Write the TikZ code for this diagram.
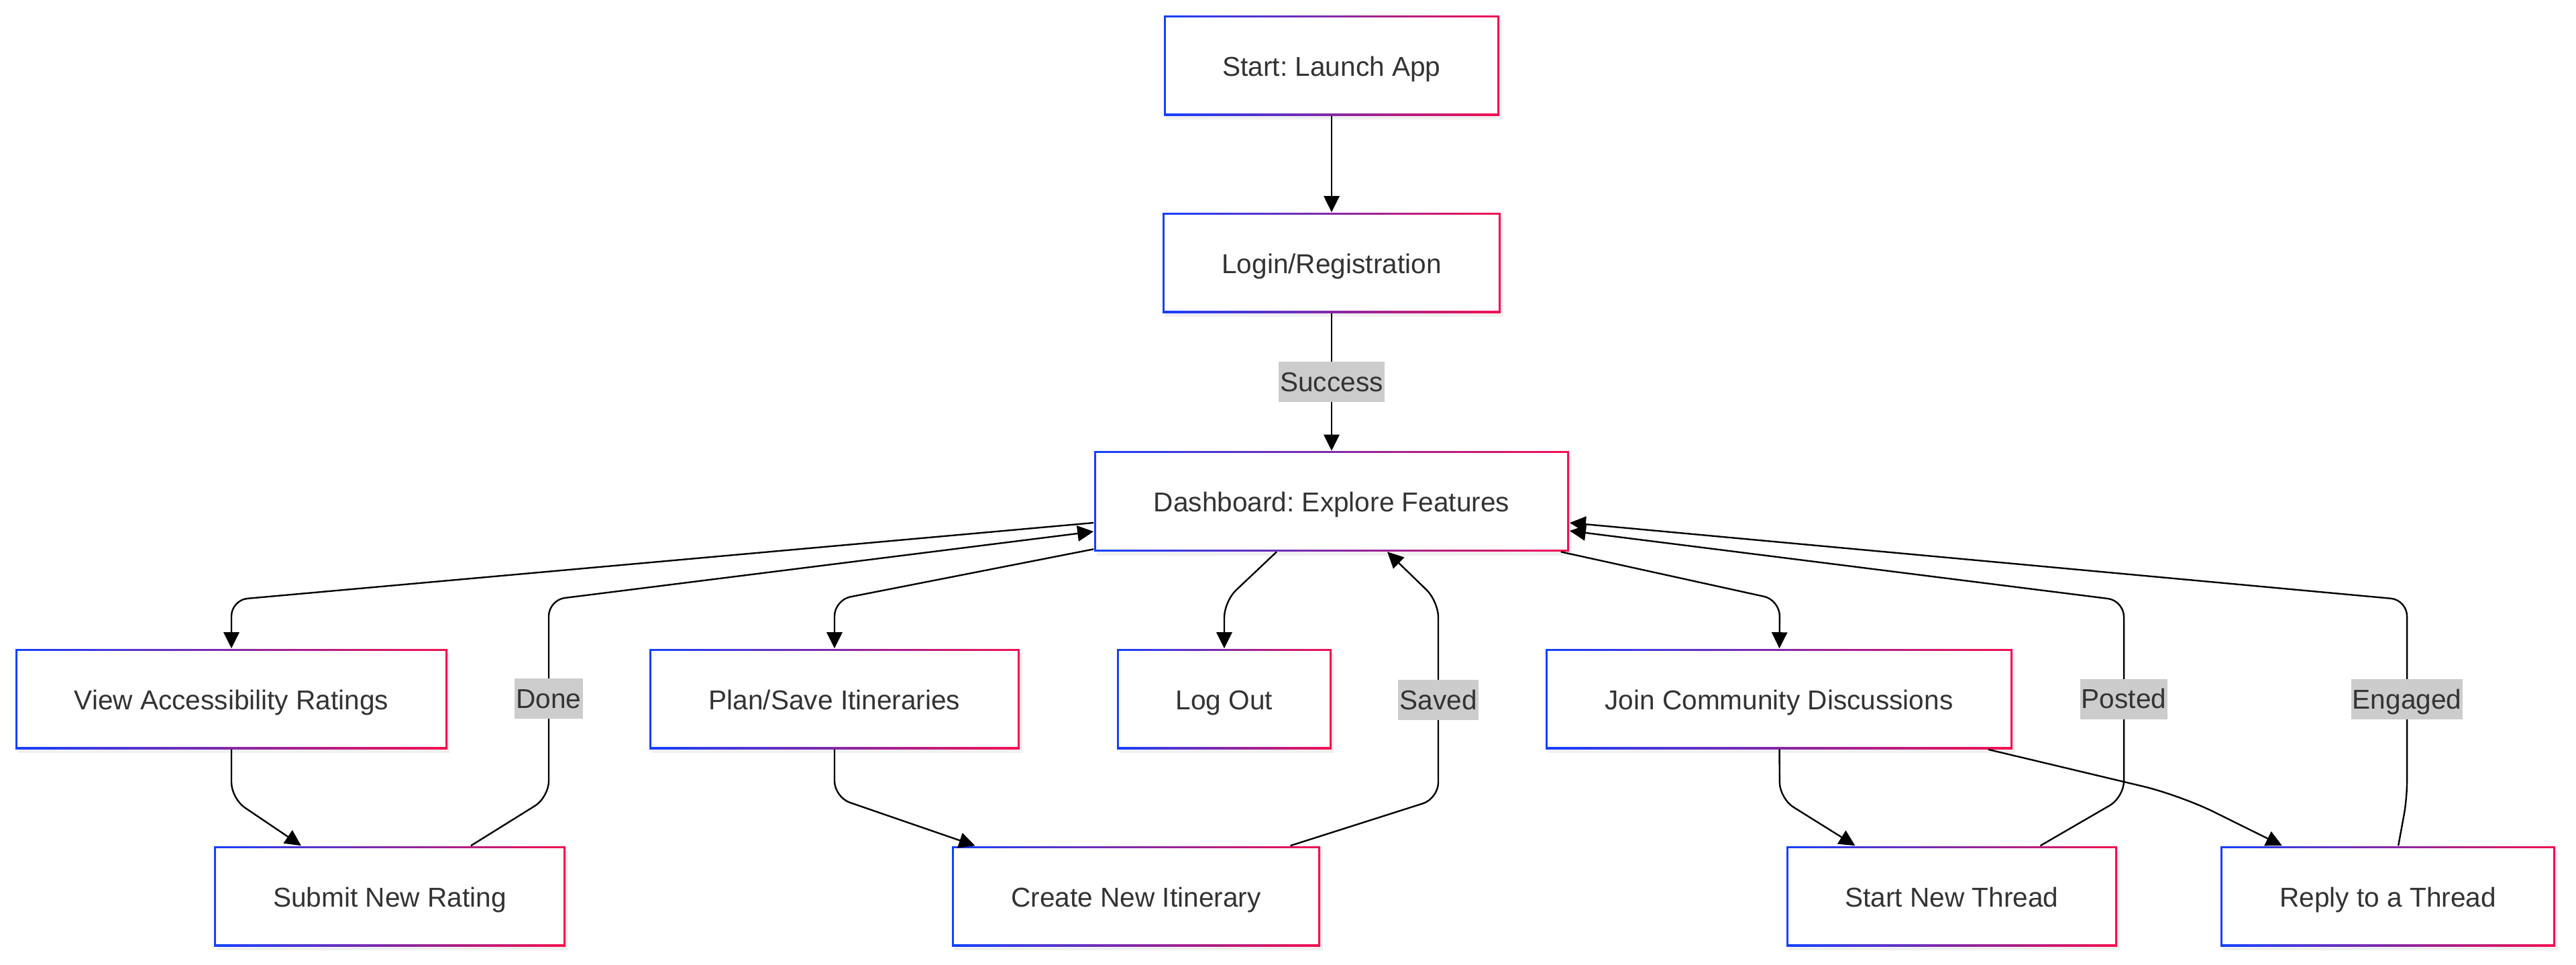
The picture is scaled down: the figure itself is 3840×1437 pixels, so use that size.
\documentclass[tikz,border=0pt]{standalone}
\usepackage{fontspec}
\setmainfont{Liberation Sans}
\usepackage{tikz}
\usetikzlibrary{arrows.meta}
\usetikzlibrary{shadows}
\definecolor{bblue}{RGB}{20,64,255}
\definecolor{bred}{RGB}{245,16,80}
\definecolor{txt}{RGB}{51,51,51}
\definecolor{lblgray}{RGB}{204,204,204}
\frenchspacing

\begin{document}
\begin{tikzpicture}[x = 0.25pt, y = -0.25pt]
		\tikzset{vertex/.style={shape = rectangle, fill = white, text = txt, font = \fontsize{10.15pt}{12pt}\selectfont,
				minimum height = 37.25pt, inner sep = 0pt, text height = 8.6pt, text depth = 0.8pt,
				drop shadow = {opacity = 0.12, shadow xshift = 1pt, shadow yshift = -1.5pt},
				path picture = {
					\shade[left color = bblue, right color = bred] (path picture bounding box.south west) rectangle (path picture bounding box.north east);
					\fill[white] ([shift = {(0.7pt,0.7pt)}]path picture bounding box.south west) rectangle ([shift = {(-0.7pt,-0.7pt)}]path picture bounding box.north east);}}}
		\tikzset{edge/.style={-{Triangle[length = 6pt, width = 5.8pt]}, line width = 0.6pt, rounded corners = 6pt}}
		\tikzset{lbl/.style={sharp corners, fill = lblgray, text = txt, font = \fontsize{10.15pt}{12pt}\selectfont,
				inner xsep = 0.5pt, inner ysep = 0pt, text height = 8pt, text depth = 1pt, minimum height = 15pt}}
		\useasboundingbox (0, 0) rectangle (3840, 1437);
					%vertices
					\node[vertex, minimum width = 125pt] (start) at (1985, 97.5) {Start: Launch App};
					\node[vertex, minimum width = 126pt] (login) at (1985, 391.5) {Login/Registration};
					\node[vertex, minimum width = 177pt] (dash) at (1985, 747) {Dashboard: Explore Features};
					\node[vertex, minimum width = 161pt] (view) at (345, 1041.5) {View Accessibility Ratings};
					\node[vertex, minimum width = 138pt] (plan) at (1244, 1041.5) {Plan/Save Itineraries};
					\node[vertex, minimum width = 80pt] (logout) at (1825, 1041.5) {Log Out};
					\node[vertex, minimum width = 174pt] (join) at (2652, 1041.5) {Join Community Discussions};
					\node[vertex, minimum width = 131pt] (submit) at (581, 1335.5) {Submit New Rating};
					\node[vertex, minimum width = 137.25pt] (create) at (1693.5, 1335.5) {Create New Itinerary};
					\node[vertex, minimum width = 123.25pt] (newthread) at (2909.5, 1335.5) {Start New Thread};
					\node[vertex, minimum width = 124.75pt] (reply) at (3559.5, 1335.5) {Reply to a Thread};
					%edges
					\draw[edge] (start) -- (login);
					\draw[edge] (login) -- node[lbl] {Success} (dash);
					\draw[edge] ([yshift = -8pt]dash.west) -- (345, 894) -- (view);
					\draw[edge] ([xshift = 30.25pt]submit.north) -- (818, 1188) -- node[lbl] {Done} (818, 894) -- ([yshift = -11.25pt]dash.west);
					\draw[edge] ([yshift = 1pt]dash.south west) -- (1244, 894) -- (plan);
					\draw[edge] ([xshift = -20.5pt]dash.south) -- (1825, 896) -- (logout);
					\draw[edge] ([xshift = 57.5pt]create.north) -- (2144, 1190) -- node[lbl] {Saved} (2144, 896) -- ([xshift = 20.75pt]dash.south);
					\draw[edge] (plan) -- (1244, 1188) -- ([xshift = -60pt]create.north);
					\draw[edge] (view) -- (345, 1190) -- ([xshift = -33pt]submit.north);
					\draw[edge] ([xshift = -3.25pt]dash.south east) -- (2653, 894) -- (join);
					\draw[edge] (join) -- (2653, 1190) -- ([xshift = -36pt]newthread.north);
					\draw[edge, rounded corners = 14pt] ([xshift = -9.25pt]join.south east) -- (3250, 1185) -- ([xshift = -39.4pt]reply.north);
					\draw[edge] ([xshift = 33pt]newthread.north) -- (3166, 1188) -- node[lbl] {Posted} (3166, 895) -- ([yshift = -11pt]dash.east);
					\draw[edge] ([xshift = 3.9pt]reply.north) -- (3588, 1190) -- node[lbl] {Engaged} (3588, 894) -- ([yshift = -8pt]dash.east);
					
\end{tikzpicture}
\end{document}
